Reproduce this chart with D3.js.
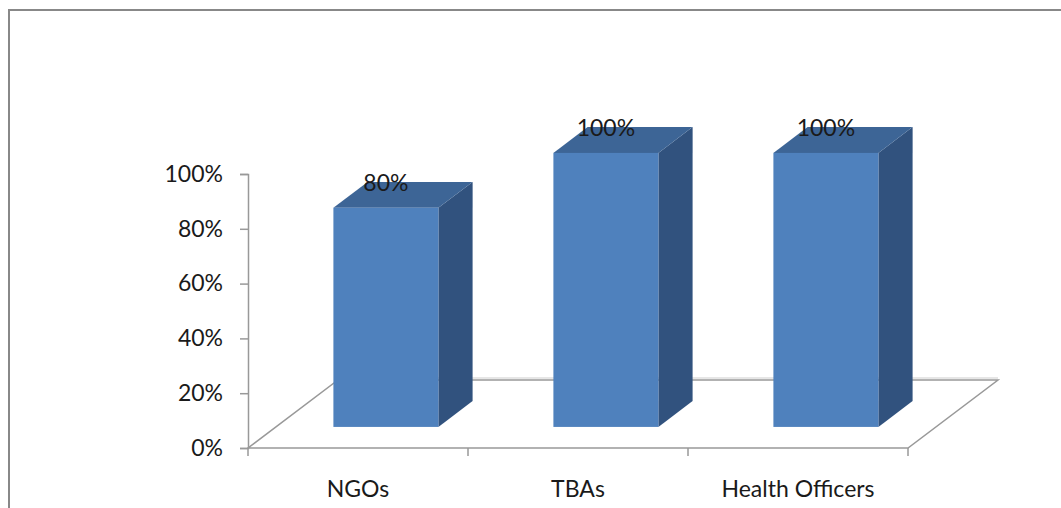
<!DOCTYPE html>
<html>
<head>
<meta charset="utf-8">
<script src="https://cdn.jsdelivr.net/npm/d3@7"></script>
<style>
  html, body { margin: 0; padding: 0; background: #fff; }
  svg { display: block; }
  text { font-family: Lato, "Open Sans", sans-serif; fill: #1a1a1a; }
</style>
</head>
<body>
<svg id="chart" width="1061" height="508"></svg>
<script>
// ---- data ----
const categories = ["NGOs", "TBAs", "Health Officers"];
const values = [0.8, 1.0, 1.0];
const dataLabels = ["80%", "100%", "100%"];
const yTicks = [0, 0.2, 0.4, 0.6, 0.8, 1.0];

// ---- layout ----
const W = 1061, H = 508;
const plot = { left: 248, right: 908, top: 174, bottom: 448 };
const depth = { dx: 90, dy: -68 };          // full floor depth vector
const barDepthStart = 0.31, barDepthEnd = 0.69;
const barWidth = 105;
const fontSize = "23px";

const svg = d3.select("#chart");

const x = d3.scaleBand().domain(categories).range([plot.left, plot.right]).paddingInner(0).paddingOuter(0);
const y = d3.scaleLinear().domain([0, 1]).range([plot.bottom, plot.top]);

// chart border
svg.append("path")
  .attr("d", `M9,${H} L9,10 L${W},10`)
  .attr("fill", "none").attr("stroke", "#888").attr("stroke-width", 2);

// floor (parallelogram)
const fl = [
  [plot.left, plot.bottom],
  [plot.right, plot.bottom],
  [plot.right + depth.dx, plot.bottom + depth.dy],
  [plot.left + depth.dx, plot.bottom + depth.dy]
];
svg.append("path")
  .attr("d", `M${fl[3][0]},${fl[3][1]} L${fl[2][0]},${fl[2][1]}`)
  .attr("stroke", "#e6e6e6").attr("stroke-width", 2).attr("transform", "translate(0,-2)");
svg.append("path")
  .attr("d", "M" + fl.map(p => p.join(",")).join(" L") + " Z")
  .attr("fill", "none").attr("stroke", "#999").attr("stroke-width", 1.5);

// y axis
const yAxis = d3.axisLeft(y).tickValues(yTicks).tickFormat(d3.format(".0%")).tickSize(8).tickPadding(17);
const yg = svg.append("g").attr("transform", `translate(${plot.left},0)`).call(yAxis);
yg.select(".domain").attr("stroke", "#999").attr("stroke-width", 1.5);
yg.selectAll(".tick line").attr("stroke", "#999").attr("stroke-width", 1.5);
yg.selectAll(".tick text").style("font-size", fontSize).style("font-family", "Lato, sans-serif").attr("fill", "#1a1a1a");

// x axis ticks at band boundaries
const bounds = categories.map(c => x(c)).concat([x(categories[categories.length - 1]) + x.bandwidth()]);
svg.append("g").selectAll("line").data(bounds).join("line")
  .attr("x1", d => d).attr("x2", d => d)
  .attr("y1", plot.bottom).attr("y2", plot.bottom + 8)
  .attr("stroke", "#999").attr("stroke-width", 1.5);
svg.append("g").selectAll("text").data(categories).join("text")
  .attr("x", d => x(d) + x.bandwidth() / 2)
  .attr("y", 497)
  .attr("text-anchor", "middle")
  .style("font-size", fontSize)
  .text(d => d);

// bars
const offX = depth.dx * barDepthStart, offY = depth.dy * barDepthStart;
const thX = depth.dx * (barDepthEnd - barDepthStart), thY = depth.dy * (barDepthEnd - barDepthStart);
const bars = svg.append("g").selectAll("g").data(categories.map((c, i) => ({ c, v: values[i], label: dataLabels[i] }))).join("g");
bars.each(function (d) {
  const g = d3.select(this);
  const x0 = x(d.c) + (x.bandwidth() - barWidth) / 2 + offX;
  const x1 = x0 + barWidth;
  const yb = y(0) + offY;
  const yt = y(d.v) + offY;
  // side face
  g.append("path")
    .attr("d", `M${x1},${yb} L${x1 + thX},${yb + thY} L${x1 + thX},${yt + thY} L${x1},${yt} Z`)
    .attr("fill", "#31527e");
  // top face
  g.append("path")
    .attr("d", `M${x0},${yt} L${x1},${yt} L${x1 + thX},${yt + thY} L${x0 + thX},${yt + thY} Z`)
    .attr("fill", "#3d6596");
  // front face
  g.append("rect")
    .attr("x", x0).attr("y", yt).attr("width", barWidth).attr("height", yb - yt)
    .attr("fill", "#4f81bd");
});
// data labels
bars.append("text")
  .attr("x", d => x(d.c) + x.bandwidth() / 2 + offX)
  .attr("y", d => y(d.v) + offY - 17)
  .attr("text-anchor", "middle")
  .style("font-size", fontSize)
  .text(d => d.label);
</script>
</body>
</html>
